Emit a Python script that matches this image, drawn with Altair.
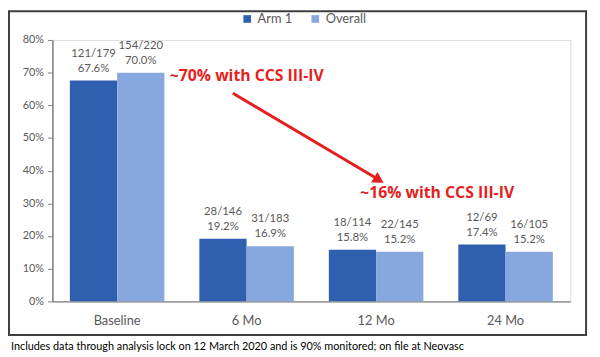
import altair as alt
import pandas as pd

categories = ["Baseline", "6 Mo", "12 Mo", "24 Mo"]
series = ["Arm 1", "Overall"]
arm1_values = [67.6, 19.2, 15.8, 17.4]
overall_values = [70.0, 16.9, 15.2, 15.2]
arm1_counts = ["121/179", "28/146", "18/114", "12/69"]
overall_counts = ["154/220", "31/183", "22/145", "16/105"]
y_ticks = [0, 0.1, 0.2, 0.3, 0.4, 0.5, 0.6, 0.7, 0.8]
note_top = "~70% with CCS III-IV"
note_bottom = "~16% with CCS III-IV"
footnote = "Includes data through analysis lock on 12 March 2020 and is 90% monitored; on file at Neovasc"

rows = []
for c, v, n in zip(categories, arm1_values, arm1_counts):
    rows.append({"cat": c, "series": "Arm 1", "value": v / 100, "label": f"{n}\n{v:.1f}%"})
for c, v, n in zip(categories, overall_values, overall_counts):
    rows.append({"cat": c, "series": "Overall", "value": v / 100, "label": f"{n}\n{v:.1f}%"})
df = pd.DataFrame(rows)

FONT = "Lato"
GRAY = "#595959"
RED = "#E61E1E"

x_enc = alt.X("cat:N", sort=categories, title=None,
              scale=alt.Scale(paddingInner=0.27, paddingOuter=0.135),
              axis=alt.Axis(labelAngle=0, ticks=False, labelPadding=13, labelFontSize=13,
                            labelColor=GRAY, domainColor="#7F7F7F", domainWidth=1.5,
                            labelFont=FONT))
xo_enc = alt.XOffset("series:N", sort=series, scale=alt.Scale(paddingInner=0, paddingOuter=0))
y_enc = alt.Y("value:Q", title=None,
              scale=alt.Scale(domain=[0, 0.8], nice=False),
              axis=alt.Axis(values=y_ticks, tickCount=20, labelOverlap=False, format=".0%",
                            grid=False, labelColor=GRAY,
                            labelFontSize=11, labelFont=FONT, tickColor="#7F7F7F",
                            domainColor="#7F7F7F", domainWidth=1.5, tickSize=5, labelPadding=4))

bars = alt.Chart(df).mark_bar().encode(
    x=x_enc,
    xOffset=xo_enc,
    y=y_enc,
    color=alt.Color("series:N", sort=series,
                    scale=alt.Scale(domain=series, range=["#2F5FAF", "#87A8DF"]),
                    legend=alt.Legend(title=None, orient="none", direction="horizontal",
                                      legendX=191, legendY=-28, symbolType="square",
                                      symbolSize=60, labelFontSize=13, labelColor=GRAY,
                                      labelFont=FONT, columnPadding=16, symbolStrokeWidth=0)),
)

labels = alt.Chart(df).mark_text(baseline="top", dy=-33, fontSize=11.5, color=GRAY,
                                  lineBreak="\n", lineHeight=15, font=FONT).encode(
    x=x_enc,
    xOffset=xo_enc,
    y=y_enc,
    text="label:N",
)

one = pd.DataFrame({"t": [0]})

border = alt.Chart(one).mark_rect(fill=None, stroke="#3F3F3F", strokeWidth=2).encode(
    x=alt.value(-44), x2=alt.value(541), y=alt.value(-29), y2=alt.value(299))

arrow_line = alt.Chart(one).mark_rule(color=RED, strokeWidth=3).encode(
    x=alt.value(183), y=alt.value(54), x2=alt.value(328), y2=alt.value(140))
arrow_head = alt.Chart(one).mark_point(shape="triangle-right", filled=True, color=RED,
                                       size=160, angle=31, opacity=1).encode(
    x=alt.value(331), y=alt.value(142))

t1 = alt.Chart(pd.DataFrame({"t": [note_top]})).mark_text(
    align="left", baseline="middle", fontSize=16, fontWeight="bold", color=RED,
    font="Open Sans").encode(
    x=alt.value(119), y=alt.value(37), text="t:N")
t2 = alt.Chart(pd.DataFrame({"t": [note_bottom]})).mark_text(
    align="center", baseline="middle", fontSize=16, fontWeight="bold", color=RED,
    font="Open Sans").encode(
    x=alt.value(390), y=alt.value(155), text="t:N")
fn = alt.Chart(pd.DataFrame({"t": [footnote]})).mark_text(
    align="left", baseline="middle", fontSize=11, color="#000000", font=FONT).encode(
    x=alt.value(-42), y=alt.value(311), text="t:N")

chart = alt.layer(bars, labels, border, arrow_line, arrow_head, t1, t2, fn).properties(
    width=525, height=265,
    autosize=alt.AutoSizeParams(type="none"),
    padding={"left": 45, "top": 30, "right": 22, "bottom": 54},
).configure_view(stroke=None).configure(background="white")

chart.save("out.html", embed_options={"renderer": "svg", "actions": False})
